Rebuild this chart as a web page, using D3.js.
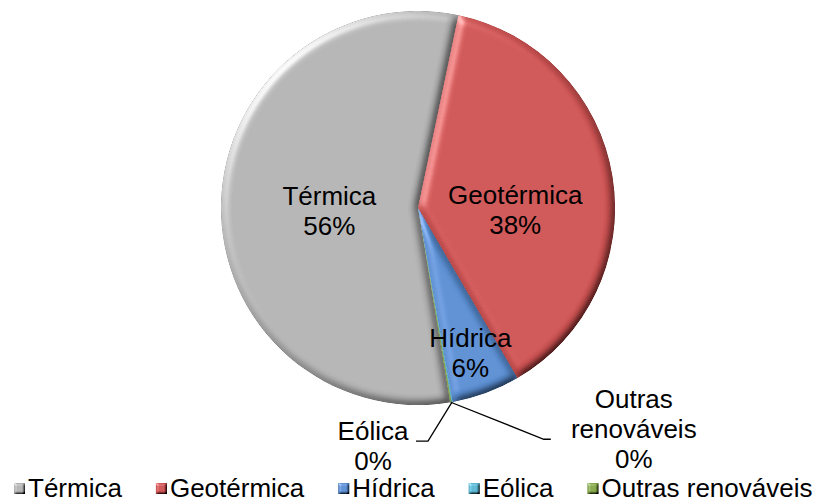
<!DOCTYPE html>
<html>
<head>
<meta charset="utf-8">
<script src="https://cdn.jsdelivr.net/npm/d3@7"></script>
<style>
  body { margin: 0; background: #fff; }
  text { font-family: "Liberation Sans", Arial, sans-serif; fill: #000; }
</style>
</head>
<body>
<div id="chart"></div>
<script>
(function () {

  // data
  var categories = ["Térmica", "Geotérmica", "Hídrica", "Eólica", "Outras renováveis"]
  var shares = [55.9, 38.3, 5.6, 0.1, 0.1]
  var percentLabels = ["56%", "38%", "6%", "0%", "0%"]
  var colors = ["#b4b4b4", "#cf5353", "#5b8fd3", "#5bb8d2", "#86a84a"]

  var width = 830, height = 500
  var cx = 418, cy = 208, radius = 197
  var firstAngle = 170.6 // degrees, like Excel's "angle of first slice"

  var svg = d3.select("#chart").append("svg")
    .attr("width", width)
    .attr("height", height)

  // bevel look
  var defs = svg.append("defs")
  function bevel(id, blur, scale) {
    var f = defs.append("filter").attr("id", id)
      .attr("x", "-5%").attr("y", "-5%").attr("width", "110%").attr("height", "110%")
    f.append("feGaussianBlur").attr("in", "SourceAlpha").attr("stdDeviation", blur).attr("result", "blur")
    f.append("feDiffuseLighting").attr("in", "blur").attr("surfaceScale", scale)
      .attr("diffuseConstant", 1).attr("lighting-color", "#fff").attr("result", "diff")
      .append("feDistantLight").attr("azimuth", 225).attr("elevation", 55)
    f.append("feComposite").attr("in", "SourceGraphic").attr("in2", "diff")
      .attr("operator", "arithmetic").attr("k1", 1.22).attr("k2", 0).attr("k3", 0).attr("k4", 0)
      .attr("result", "shaded")
    f.append("feSpecularLighting").attr("in", "blur").attr("surfaceScale", scale)
      .attr("specularConstant", 0.4).attr("specularExponent", 12)
      .attr("lighting-color", "#fff").attr("result", "spec")
      .append("feDistantLight").attr("azimuth", 225).attr("elevation", 10)
    f.append("feComposite").attr("in", "spec").attr("in2", "SourceAlpha")
      .attr("operator", "in").attr("result", "specIn")
    f.append("feComposite").attr("in", "shaded").attr("in2", "specIn")
      .attr("operator", "arithmetic").attr("k1", 0).attr("k2", 1).attr("k3", 1).attr("k4", 0)
  }
  bevel("bevel", 4, 6)
  bevel("bevelSmall", 1.2, 3)

  var rad = Math.PI / 180
  var pie = d3.pie().sort(null).value(function (d) { return d })
    .startAngle(firstAngle * rad)
    .endAngle(firstAngle * rad + 2 * Math.PI)
  var arcs = pie(shares)

  var arc = d3.arc().innerRadius(0).outerRadius(radius)

  var g = svg.append("g").attr("transform", "translate(" + cx + "," + cy + ")")

  g.selectAll(".slice")
    .data(arcs)
    .enter()
    .append("path")
    .attr("class", "slice")
    .attr("d", arc)
    .attr("fill", function (d, i) { return colors[i] })
    .attr("filter", "url(#bevel)")

  // label placement: inside labels by fraction of radius, tiny slices outside with leaders
  var inside = { 0: [0.45, 4], 1: [0.5, 17], 2: [0.77, 2] }
  var lineH = 30

  function multiLine(sel, lines, x, yMid) {
    var first = yMid - (lines.length - 1) * lineH / 2 + 10
    var t = sel.append("text")
      .attr("text-anchor", "middle")
      .attr("font-size", 26)
    lines.forEach(function (s, k) {
      t.append("tspan").attr("x", x).attr("y", first + k * lineH).text(s)
    })
  }

  arcs.forEach(function (d, i) {
    var mid = (d.startAngle + d.endAngle) / 2
    if (inside[i]) {
      var r = inside[i][0] * radius
      var x = Math.sin(mid) * r
      var y = -Math.cos(mid) * r + inside[i][1]
      multiLine(g, [categories[i], percentLabels[i]], x, y)
    }
  })

  // leader lines for the 0% slices
  function edge(d) {
    var a = (d.startAngle + d.endAngle) / 2
    return [Math.sin(a) * radius, -Math.cos(a) * radius]
  }
  var pE = edge(arcs[3]), pO = edge(arcs[4])
  var line = d3.line()
  g.append("path")
    .attr("d", line([pE, [pE[0] - 24, pE[1] + 39], [pE[0] - 36, pE[1] + 39]]))
    .attr("fill", "none").attr("stroke", "#000").attr("stroke-width", 1.3)
  g.append("path")
    .attr("d", line([pO, [pO[0] + 93, pO[1] + 37], [pO[0] + 100, pO[1] + 37]]))
    .attr("fill", "none").attr("stroke", "#000").attr("stroke-width", 1.3)

  multiLine(g, [categories[3], percentLabels[3]], pE[0] - 79, pE[1] + 43)
  multiLine(g, ["Outras", "renováveis", percentLabels[4]], pO[0] + 183, pO[1] + 26)

  // legend
  var legend = svg.append("g").attr("class", "legend")
  var lx = 14, ly = 497
  categories.forEach(function (c, i) {
    legend.append("rect")
      .attr("x", lx).attr("y", ly - 14)
      .attr("width", 11).attr("height", 11)
      .attr("fill", colors[i])
      .attr("filter", "url(#bevelSmall)")
    var t = legend.append("text")
      .attr("x", lx + 14).attr("y", ly)
      .attr("font-size", 26)
      .text(c)
    lx += 14 + t.node().getComputedTextLength() + 34
  })

})()
</script>
</body>
</html>
